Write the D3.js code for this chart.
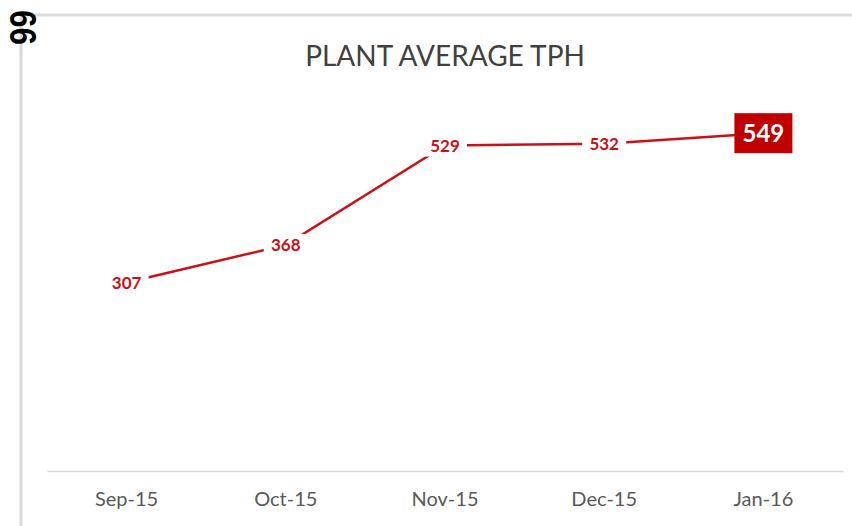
<!DOCTYPE html>
<html>
<head>
<meta charset="utf-8">
<script src="https://cdn.jsdelivr.net/npm/d3@7"></script>
<style>
  body { margin: 0; background: #fff; }
  svg { display: block; }
</style>
</head>
<body>
<svg id="chart"></svg>
<script>
'use strict';

var months = ['Sep-15', 'Oct-15', 'Nov-15', 'Dec-15', 'Jan-16'];
var tph = [307, 368, 529, 532, 549];
var yDomain = [0, 700];

var width = 852,
  height = 526,
  red = '#cc1018',
  font = 'Lato, "Open Sans", sans-serif';

var svg = d3.select('#chart').attr('width', width).attr('height', height);

// page frame lines
svg.append('line').attr('x1', 20).attr('x2', width).attr('y1', 15).attr('y2', 15)
  .attr('stroke', '#dcdcdc').attr('stroke-width', 3);
svg.append('line').attr('x1', 21).attr('x2', 21).attr('y1', 15).attr('y2', height)
  .attr('stroke', '#d9d9d9').attr('stroke-width', 3);

svg.append('text')
  .attr('transform', 'translate(10,10) rotate(90)')
  .attr('font-family', '"Liberation Sans", sans-serif')
  .attr('font-weight', 'bold')
  .attr('font-size', 37)
  .attr('textLength', 35)
  .attr('lengthAdjust', 'spacingAndGlyphs')
  .attr('fill', '#000')
  .text('66');

var x = d3.scaleBand().domain(months).range([47, 843]);
var y = d3.scaleLinear().domain(yDomain).range([472, 40]);

function cx(d, i) { return x(months[i]) + x.bandwidth() / 2; }

// category axis
var axis = svg.append('g').attr('transform', 'translate(0,471)')
  .call(d3.axisBottom(x).tickSize(0).tickPadding(21));
axis.select('.domain').attr('stroke', '#d9d9d9').attr('stroke-width', 1.5);
axis.selectAll('text')
  .attr('font-family', font)
  .attr('font-size', 20)
  .attr('fill', '#595959');

svg.append('text')
  .attr('x', 445).attr('y', 66)
  .attr('text-anchor', 'middle')
  .attr('font-family', font)
  .attr('font-size', 28)
  .attr('fill', '#404040')
  .text('PLANT AVERAGE TPH');

var line = d3.line()
  .x(cx)
  .y(function (d) { return y(d); });

svg.append('path').datum(tph)
  .attr('d', line)
  .attr('fill', 'none')
  .attr('stroke', red)
  .attr('stroke-width', 2.5);

var last = tph.length - 1;

var labels = svg.selectAll('g.lbl').data(tph).enter().append('g')
  .attr('class', 'lbl')
  .attr('transform', function (d, i) { return 'translate(' + cx(d, i) + ',' + y(d) + ')'; });

labels.append('rect')
  .attr('x', function (d, i) { return i === last ? -29 : -22; })
  .attr('y', function (d, i) { return i === last ? -20 : -11; })
  .attr('width', function (d, i) { return i === last ? 58 : 44; })
  .attr('height', function (d, i) { return i === last ? 40 : 22; })
  .attr('fill', function (d, i) { return i === last ? '#c00000' : '#fff'; });

labels.append('text')
  .attr('text-anchor', 'middle')
  .attr('dy', '0.36em')
  .attr('font-family', font)
  .attr('font-weight', 'bold')
  .attr('font-size', function (d, i) { return i === last ? 24 : 17; })
  .attr('fill', function (d, i) { return i === last ? '#fff' : red; })
  .text(function (d) { return d; });
</script>
</body>
</html>
